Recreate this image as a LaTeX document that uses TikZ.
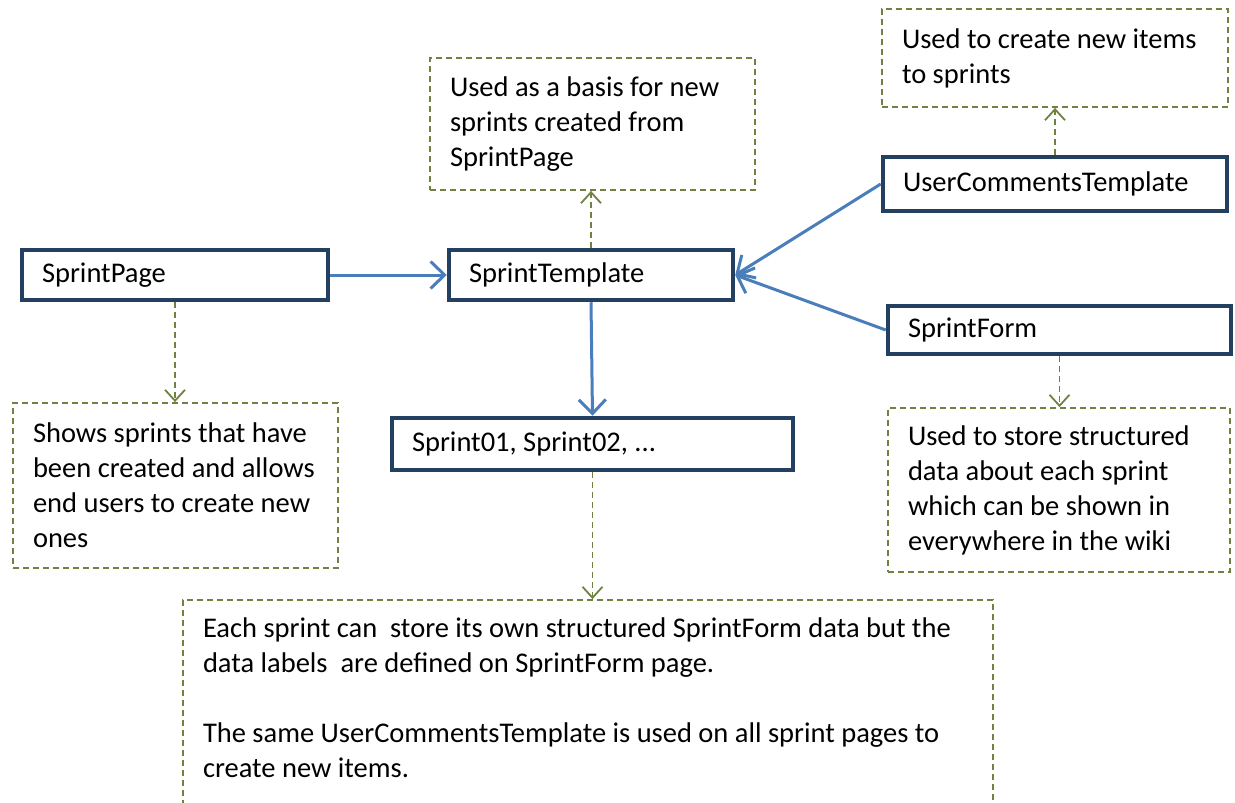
\documentclass[tikz,border=0pt]{standalone}
\usepackage{fontspec}
\setmainfont{Carlito}
\usepackage{tikz}
\usetikzlibrary{positioning}
\usetikzlibrary{arrows.meta}
\hyphenpenalty=10000
\spaceskip=4pt plus 1pt minus 0.5pt
\definecolor{boxline}{RGB}{36,64,96}
\definecolor{linkblue}{RGB}{74,126,187}
\definecolor{noteline}{RGB}{112,130,66}
\tikzset{pagebox/.style={rectangle, draw=boxline, line width=4.5pt, fill=white, inner xsep=20pt, align=flush left, font=\fontsize{28.5}{35}\selectfont}}
\tikzset{notebox/.style={rectangle, draw=noteline, line width=1.8pt, dash pattern=on 6pt off 4pt, inner xsep=20pt, align=flush left, font=\fontsize{28.5}{35}\selectfont}}
\tikzset{link/.style={draw=linkblue, line width=3pt, -{Straight Barb[length=14pt,width=27pt]}}}
\tikzset{notelink/.style={draw=noteline, line width=1.8pt, dash pattern=on 6pt off 4pt, -{Straight Barb[length=11pt,width=20pt,line width=1.8pt]}}}

\begin{document}
\begin{tikzpicture}[x=1pt, y=-1pt]
    \useasboundingbox (0,0) rectangle (1235,803);

    % pages
    \node[pagebox, minimum width=306pt, minimum height=50pt, text width=266pt]    (page)      at (175,275)    {SprintPage};
    \node[pagebox, minimum width=284pt, minimum height=50pt, text width=244pt]    (template)  at (591,275)    {SprintTemplate};
    \node[pagebox, minimum width=342pt, minimum height=54pt, text width=304pt]    (comments)  at (1055,184)   {UserCommentsTemplate};
    \node[pagebox, minimum width=341pt, minimum height=48pt, text width=303pt]    (form)      at (1059.5,330) {SprintForm};
    \node[pagebox, minimum width=397pt, minimum height=52pt, text width=361pt]    (sprints)   at (592.5,444)  {Sprint01, Sprint02, ...};

    % notes
    \node[notebox, minimum width=325pt, minimum height=132pt, text width=285pt]   (basisnote) at (592.5,124)  {Used as a basis for new\\ sprints created from\\ SprintPage};
    \node[notebox, minimum width=346pt, minimum height=98pt, text width=306pt]    (itemsnote) at (1055,58)    {Used to create new items\\ to sprints};
    \node[notebox, minimum width=325pt, minimum height=165pt, text width=285pt]   (pagenote)  at (175.5,485.5) {Shows sprints that have\\ been created and allows\\ end users to create new\\ ones};
    \node[notebox, minimum width=342pt, minimum height=164pt, text width=302pt]   (formnote)  at (1059,490)   {Used to store structured\\ data about each sprint\\ which can be shown in\\ everywhere in the wiki};
    \node[notebox, minimum width=810pt, minimum height=230pt, text width=770pt]   (sprintnote) at (588,715)   {Each sprint can\ \ store its own structured SprintForm data but the\\ data labels\ \ are defined on SprintForm page.\\ \mbox{}\\ The same UserCommentsTemplate is used on all sprint pages to\\ create new items.\\ \mbox{}};

    \draw[link] (page.east) -- (template.west);
    \draw[link] (comments.west) -- (template.east);
    \draw[link] (form.west) -- (template.east);
    \draw[link] (template.south) -- (sprints.north);

    \draw[notelink] (template.north) -- (template.north |- basisnote.south);
    \draw[notelink] (comments.north) -- (comments.north |- itemsnote.south);
    \draw[notelink] (page.south) -- (page.south |- pagenote.north);
    \draw[notelink] (form.south) -- (form.south |- formnote.north);
    \draw[notelink] (sprints.south) -- (sprints.south |- sprintnote.north);
\end{tikzpicture}
\end{document}
